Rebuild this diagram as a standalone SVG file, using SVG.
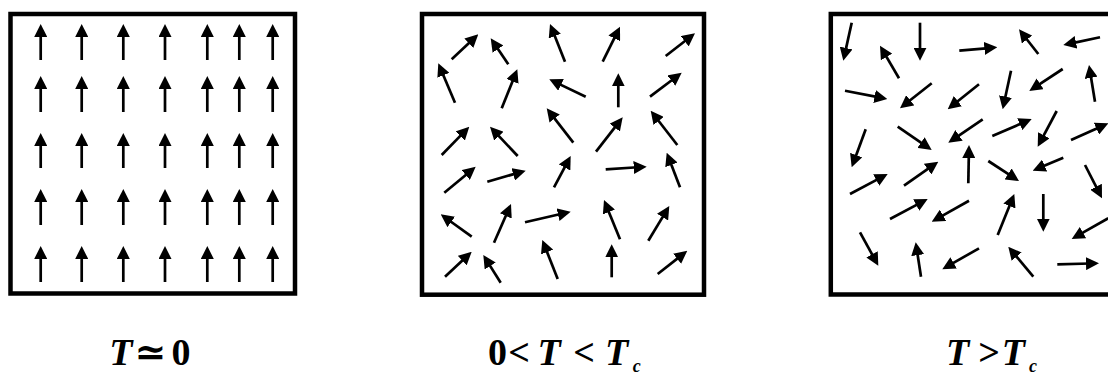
<svg xmlns="http://www.w3.org/2000/svg" width="1108" height="376" viewBox="0 0 1108 376">
<defs>
<marker id="head" markerUnits="userSpaceOnUse" markerWidth="13" markerHeight="13" viewBox="0 0 13 13" refX="13" refY="6.5" orient="auto">
<path d="M0,0 L13,6.5 L0,13 z" fill="#000"/>
</marker>
</defs>
<style>
.box{fill:#fff;stroke:#000;stroke-width:4.5}
.a{fill:none;stroke:#000;stroke-width:2.7;stroke-dasharray:78 100;marker-end:url(#head)}
.lab{font-size:38px;font-weight:bold;fill:#000}
.it{font-style:italic}
.sub{font-size:18px;font-weight:bold;font-style:italic;fill:#000}
</style>
<rect width="1108" height="376" fill="#fff"/>
<g id="panel-ordered">
<rect class="box" x="10.5" y="14" width="284.5" height="279.5"/>
<g id="spins-ordered">
<path class="a" pathLength="100" d="M40.7,60 L40.7,24"/><path class="a" pathLength="100" d="M81.7,60 L81.7,24"/><path class="a" pathLength="100" d="M123.3,60 L123.3,24"/><path class="a" pathLength="100" d="M165,60 L165,24"/><path class="a" pathLength="100" d="M207.3,60 L207.3,24"/><path class="a" pathLength="100" d="M239.3,60 L239.3,24"/><path class="a" pathLength="100" d="M272.7,60 L272.7,24"/>
<path class="a" pathLength="100" d="M40.7,112 L40.7,76"/><path class="a" pathLength="100" d="M81.7,112 L81.7,76"/><path class="a" pathLength="100" d="M123.3,112 L123.3,76"/><path class="a" pathLength="100" d="M165,112 L165,76"/><path class="a" pathLength="100" d="M207.3,112 L207.3,76"/><path class="a" pathLength="100" d="M239.3,112 L239.3,76"/><path class="a" pathLength="100" d="M272.7,112 L272.7,76"/>
<path class="a" pathLength="100" d="M40.7,168 L40.7,133"/><path class="a" pathLength="100" d="M81.7,168 L81.7,133"/><path class="a" pathLength="100" d="M123.3,168 L123.3,133"/><path class="a" pathLength="100" d="M165,168 L165,133"/><path class="a" pathLength="100" d="M207.3,168 L207.3,133"/><path class="a" pathLength="100" d="M239.3,168 L239.3,133"/><path class="a" pathLength="100" d="M272.7,168 L272.7,133"/>
<path class="a" pathLength="100" d="M40.7,225 L40.7,189"/><path class="a" pathLength="100" d="M81.7,225 L81.7,189"/><path class="a" pathLength="100" d="M123.3,225 L123.3,189"/><path class="a" pathLength="100" d="M165,225 L165,189"/><path class="a" pathLength="100" d="M207.3,225 L207.3,189"/><path class="a" pathLength="100" d="M239.3,225 L239.3,189"/><path class="a" pathLength="100" d="M272.7,225 L272.7,189"/>
<path class="a" pathLength="100" d="M40.7,282 L40.7,246"/><path class="a" pathLength="100" d="M81.7,282 L81.7,246"/><path class="a" pathLength="100" d="M123.3,282 L123.3,246"/><path class="a" pathLength="100" d="M165,282 L165,246"/><path class="a" pathLength="100" d="M207.3,282 L207.3,246"/><path class="a" pathLength="100" d="M239.3,282 L239.3,246"/><path class="a" pathLength="100" d="M272.7,282 L272.7,246"/>
</g>
</g>
<g id="panel-partial">
<rect class="box" x="422" y="14" width="282" height="280.7"/>
<g id="spins-partial">
<path class="a" pathLength="100" d="M451.7,59.3 L478.3,34.3"/>
<path class="a" pathLength="100" d="M508.3,64.3 L490.7,38.3"/>
<path class="a" pathLength="100" d="M565,61.7 L550,24"/>
<path class="a" pathLength="100" d="M602.7,61.7 L620,26.7"/>
<path class="a" pathLength="100" d="M665.7,56 L695,33.3"/>
<path class="a" pathLength="100" d="M455,102.7 L438.3,63.3"/>
<path class="a" pathLength="100" d="M501.7,108.3 L517.3,69.3"/>
<path class="a" pathLength="100" d="M585.7,96.7 L549.3,79.3"/>
<path class="a" pathLength="100" d="M618.3,107.3 L618.3,73.3"/>
<path class="a" pathLength="100" d="M650,96.7 L681.7,72.7"/>
<path class="a" pathLength="100" d="M441.7,155 L469.3,126.7"/>
<path class="a" pathLength="100" d="M517.7,156 L490,126.7"/>
<path class="a" pathLength="100" d="M573.3,142.7 L546.7,108.3"/>
<path class="a" pathLength="100" d="M596,151.7 L622.7,117.3"/>
<path class="a" pathLength="100" d="M677.3,145 L650.7,110.7"/>
<path class="a" pathLength="100" d="M444.3,192.7 L475.7,166.7"/>
<path class="a" pathLength="100" d="M487.3,181.7 L525.7,170.7"/>
<path class="a" pathLength="100" d="M554,187.3 L570.7,156"/>
<path class="a" pathLength="100" d="M605.7,169.3 L646.7,166.7"/>
<path class="a" pathLength="100" d="M680,187.3 L666.7,152.7"/>
<path class="a" pathLength="100" d="M471.7,236.7 L440.7,214.3"/>
<path class="a" pathLength="100" d="M494,242.7 L511,204"/>
<path class="a" pathLength="100" d="M525,222.3 L570.7,211.7"/>
<path class="a" pathLength="100" d="M620,239.3 L604,200"/>
<path class="a" pathLength="100" d="M648.3,240.7 L669.3,206"/>
<path class="a" pathLength="100" d="M445,276.7 L471.7,251.7"/>
<path class="a" pathLength="100" d="M500.7,282.7 L483.3,255"/>
<path class="a" pathLength="100" d="M557.7,279 L542.3,240"/>
<path class="a" pathLength="100" d="M611.7,277.3 L611.7,244.3"/>
<path class="a" pathLength="100" d="M657.7,274 L687.3,250.7"/>
</g>
</g>
<g id="panel-disordered">
<rect class="box" x="830.8" y="14" width="282" height="280.5"/>
<g id="spins-disordered">
<path class="a" pathLength="100" d="M851.7,22.7 L843.3,60.7"/>
<path class="a" pathLength="100" d="M899,78.3 L880,45.7"/>
<path class="a" pathLength="100" d="M920,22.7 L920,60.7"/>
<path class="a" pathLength="100" d="M959.3,50.7 L997.3,47.3"/>
<path class="a" pathLength="100" d="M1038.3,54 L1019,29.3"/>
<path class="a" pathLength="100" d="M1100,37.3 L1063.3,45"/>
<path class="a" pathLength="100" d="M845,90.7 L887.3,99"/>
<path class="a" pathLength="100" d="M931.7,83.3 L900,108.3"/>
<path class="a" pathLength="100" d="M979,84.3 L947.7,109.3"/>
<path class="a" pathLength="100" d="M1011,70.7 L1002.7,109.3"/>
<path class="a" pathLength="100" d="M1062.7,69 L1029.3,91"/>
<path class="a" pathLength="100" d="M1095,101.7 L1089,65"/>
<path class="a" pathLength="100" d="M865.7,129.3 L851.7,167.3"/>
<path class="a" pathLength="100" d="M897.7,126.7 L931.7,150"/>
<path class="a" pathLength="100" d="M982.7,119.3 L948.3,142.7"/>
<path class="a" pathLength="100" d="M992.3,136 L1031.7,119"/>
<path class="a" pathLength="100" d="M1056.7,111 L1037.7,146.7"/>
<path class="a" pathLength="100" d="M1071,140 L1108.3,123.3"/>
<path class="a" pathLength="100" d="M850,194 L887.7,174"/>
<path class="a" pathLength="100" d="M904,185.7 L938.3,161.7"/>
<path class="a" pathLength="100" d="M968.3,183.3 L969,145"/>
<path class="a" pathLength="100" d="M988.3,161 L1019,181"/>
<path class="a" pathLength="100" d="M1063.3,157.7 L1032.7,170.7"/>
<path class="a" pathLength="100" d="M1085,165 L1102,198.3"/>
<path class="a" pathLength="100" d="M890,219 L927.7,199"/>
<path class="a" pathLength="100" d="M969,200.7 L931.7,221.7"/>
<path class="a" pathLength="100" d="M997.7,235 L1014.3,194"/>
<path class="a" pathLength="100" d="M1043.3,194 L1043.3,231.7"/>
<path class="a" pathLength="100" d="M1108.3,218.3 L1071.7,239"/>
<path class="a" pathLength="100" d="M860,232.3 L878.3,265.7"/>
<path class="a" pathLength="100" d="M921,276.7 L915.7,242.3"/>
<path class="a" pathLength="100" d="M979,248.3 L942.3,269.3"/>
<path class="a" pathLength="100" d="M1033.3,276.7 L1008.3,246.7"/>
<path class="a" pathLength="100" d="M1057.3,264.3 L1099,263.3"/>
</g>
</g>
<g id="labels" font-family="'Liberation Serif', 'Times New Roman', 'DejaVu Serif', serif">
<text class="lab" y="365" text-anchor="middle"><tspan class="it" x="120.8">T</tspan><tspan x="150.5">≃</tspan><tspan x="181">0</tspan></text>
<text class="lab" y="365" text-anchor="middle"><tspan x="497.5">0</tspan><tspan x="519.2">&lt;</tspan><tspan class="it" x="549.2">T</tspan><tspan x="584.2">&lt;</tspan><tspan class="it" x="616.7">T</tspan></text>
<text class="sub" x="636.7" y="371.5" text-anchor="middle">c</text>
<text class="lab" y="365" text-anchor="middle"><tspan class="it" x="957.5">T</tspan><tspan x="989.2">&gt;</tspan><tspan class="it" x="1013.3">T</tspan></text>
<text class="sub" x="1033" y="371.5" text-anchor="middle">c</text>
</g>
</svg>
